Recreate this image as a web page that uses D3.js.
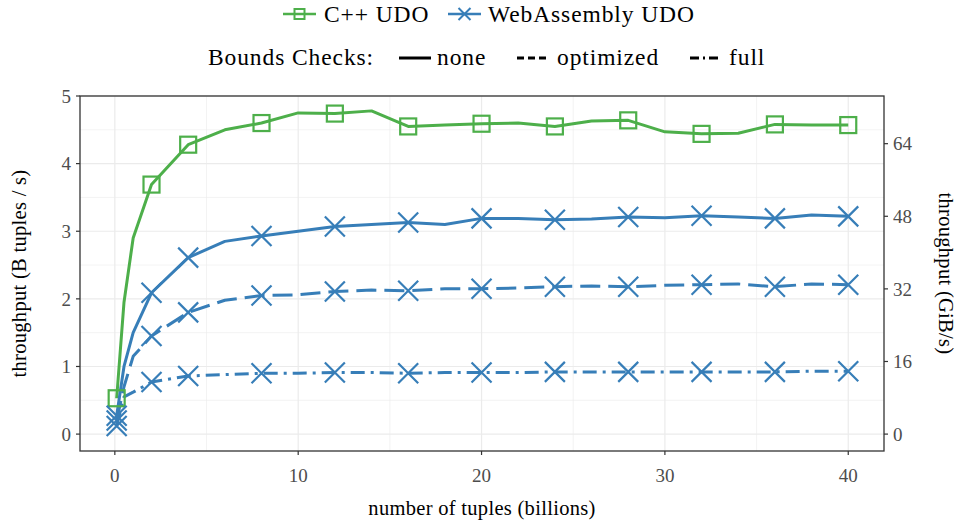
<!DOCTYPE html>
<html><head><meta charset="utf-8">
<script src="https://cdn.jsdelivr.net/npm/d3@7"></script>
<style>body{margin:0;background:#fff}svg{display:block}</style>
</head><body>
<svg id="c" width="962" height="523"></svg>
<script>
// ---- data ----
const tuples = [0.1, 0.5, 1, 2, 4, 6, 8, 10, 12, 14, 16, 18, 20, 22, 24, 26, 28, 30, 32, 34, 36, 38, 40];
const cppNone  = [0.53, 1.95, 2.9, 3.69, 4.28, 4.5, 4.6, 4.75, 4.74, 4.78, 4.55, 4.57, 4.59, 4.6, 4.55, 4.63, 4.64, 4.47, 4.44, 4.45, 4.58, 4.57, 4.57];
const wasmNone = [0.27, 1.0, 1.5, 2.09, 2.61, 2.85, 2.93, 3.0, 3.07, 3.1, 3.13, 3.1, 3.19, 3.19, 3.17, 3.18, 3.21, 3.2, 3.23, 3.21, 3.19, 3.24, 3.22];
const wasmOpt  = [0.2, 0.7, 1.15, 1.45, 1.8, 1.98, 2.05, 2.06, 2.11, 2.13, 2.12, 2.15, 2.15, 2.16, 2.18, 2.19, 2.18, 2.2, 2.21, 2.22, 2.18, 2.22, 2.21];
const wasmFull = [0.12, 0.55, 0.62, 0.77, 0.86, 0.88, 0.9, 0.9, 0.91, 0.91, 0.9, 0.91, 0.91, 0.91, 0.92, 0.92, 0.92, 0.92, 0.92, 0.92, 0.92, 0.93, 0.93];
const markerTuples = [0.1, 2, 4, 8, 12, 16, 20, 24, 28, 32, 36, 40];
const xTicks = [0, 10, 20, 30, 40];
const yTicks = [0, 1, 2, 3, 4, 5];
const gibTicks = [0, 16, 32, 48, 64];
const seriesNames = ["C++ UDO", "WebAssembly UDO"];
const checkNames = ["none", "optimized", "full"];
const BYTES_PER_TUPLE = 16;

// ---- style ----
const GREEN = "#4daf4a", BLUE = "#377eb8";
const FONT = "'Liberation Serif', 'DejaVu Serif', serif";
const dashes = {none: null, optimized: "20,8", full: "14,6,3,6"};
const legendDashes = {none: null, optimized: "7,4", full: "9,4,2,4"};

const svg = d3.select("#c").style("font-family", FONT);
const P = {l: 80, r: 884, t: 96, b: 451};
const x = d3.scaleLinear().domain([-1.9, 41.95]).range([P.l, P.r]);
const y = d3.scaleLinear().domain([-0.25, 5]).range([P.b, P.t]);
const gibToB = g => g * Math.pow(2, 30) / BYTES_PER_TUPLE / 1e9;

// grid
const g = svg.append("g");
const minorX = d3.range(5, 40, 10), minorY = d3.range(0.5, 5, 1);
g.selectAll(".mx").data(minorX).join("line").attr("x1", d => x(d)).attr("x2", d => x(d)).attr("y1", P.t).attr("y2", P.b).attr("stroke", "#ebebeb").attr("stroke-width", 0.6);
g.selectAll(".my").data(minorY).join("line").attr("y1", d => y(d)).attr("y2", d => y(d)).attr("x1", P.l).attr("x2", P.r).attr("stroke", "#ebebeb").attr("stroke-width", 0.6);
g.selectAll(".gx").data(xTicks).join("line").attr("x1", d => x(d)).attr("x2", d => x(d)).attr("y1", P.t).attr("y2", P.b).attr("stroke", "#ebebeb").attr("stroke-width", 1.2);
g.selectAll(".gy").data(yTicks).join("line").attr("y1", d => y(d)).attr("y2", d => y(d)).attr("x1", P.l).attr("x2", P.r).attr("stroke", "#ebebeb").attr("stroke-width", 1.2);

// lines
const line = d3.line().x(d => x(d[0])).y(d => y(d[1]));
const series = [
  {vals: cppNone, color: GREEN, check: "none", marker: "square"},
  {vals: wasmFull, color: BLUE, check: "full", marker: "x"},
  {vals: wasmOpt, color: BLUE, check: "optimized", marker: "x"},
  {vals: wasmNone, color: BLUE, check: "none", marker: "x"},
];
const plot = svg.append("g");
series.forEach(s => {
  const pts = tuples.map((t, i) => [t, s.vals[i]]);
  plot.append("path").attr("d", line(pts)).attr("fill", "none").attr("stroke", s.color)
    .attr("stroke-width", 3).attr("stroke-dasharray", dashes[s.check]).attr("stroke-linejoin", "round");
});
function drawMarker(sel, type, cx, cy, size, color, sw) {
  const h = size / 2;
  if (type === "square") {
    sel.append("rect").attr("x", cx - h).attr("y", cy - h).attr("width", size).attr("height", size)
      .attr("fill", "none").attr("stroke", color).attr("stroke-width", sw);
  } else {
    sel.append("path").attr("d", `M${cx-h},${cy-h}L${cx+h},${cy+h}M${cx-h},${cy+h}L${cx+h},${cy-h}`)
      .attr("stroke", color).attr("stroke-width", sw).attr("fill", "none");
  }
}
series.forEach(s => {
  markerTuples.forEach(t => {
    const i = tuples.indexOf(t);
    drawMarker(plot, s.marker, x(t), y(s.vals[i]), s.marker === "square" ? 16 : 20, s.color, 2.2);
  });
});

// panel border
svg.append("rect").attr("x", P.l).attr("y", P.t).attr("width", P.r - P.l).attr("height", P.b - P.t)
  .attr("fill", "none").attr("stroke", "#333").attr("stroke-width", 1.3);

// axes
const TICKC = "#4d4d4d";
const ax = svg.append("g").attr("font-size", 19).attr("fill", TICKC);
yTicks.forEach(v => {
  ax.append("line").attr("x1", P.l - 4).attr("x2", P.l).attr("y1", y(v)).attr("y2", y(v)).attr("stroke", "#333").attr("stroke-width", 1.2);
  ax.append("text").attr("x", P.l - 9).attr("y", y(v)).attr("dy", "0.35em").attr("text-anchor", "end").text(v);
});
gibTicks.forEach(v => {
  const yy = y(gibToB(v));
  ax.append("line").attr("x1", P.r).attr("x2", P.r + 4).attr("y1", yy).attr("y2", yy).attr("stroke", "#333").attr("stroke-width", 1.2);
  ax.append("text").attr("x", P.r + 9).attr("y", yy).attr("dy", "0.35em").attr("text-anchor", "start").text(v);
});
xTicks.forEach(v => {
  ax.append("line").attr("x1", x(v)).attr("x2", x(v)).attr("y1", P.b).attr("y2", P.b + 4).attr("stroke", "#333").attr("stroke-width", 1.2);
  ax.append("text").attr("x", x(v)).attr("y", P.b + 31).attr("text-anchor", "middle").text(v);
});

// axis titles
const tt = svg.append("g").attr("font-size", 20.5).attr("fill", "#000").attr("letter-spacing", 0.3);
tt.append("text").attr("x", (P.l + P.r) / 2).attr("y", 515).attr("text-anchor", "middle").text("number of tuples (billions)");
tt.append("text").attr("transform", `translate(26,${(P.t + P.b) / 2}) rotate(-90)`).attr("text-anchor", "middle").text("throughput (B tuples / s)");
tt.append("text").attr("transform", `translate(939,${(P.t + P.b) / 2}) rotate(90)`).attr("text-anchor", "middle").text("throughput (GiB/s)");

// legend
const lg = svg.append("g").attr("font-size", 23.5).attr("fill", "#000").attr("letter-spacing", 0.9);
const leg1 = [
  {name: seriesNames[0], color: GREEN, marker: "square", x0: 283, tx: 324},
  {name: seriesNames[1], color: BLUE, marker: "x", x0: 448, tx: 488},
];
leg1.forEach(d => {
  lg.append("line").attr("x1", d.x0).attr("x2", d.x0 + 33).attr("y1", 14).attr("y2", 14).attr("stroke", d.color).attr("stroke-width", 2.5);
  drawMarker(lg, d.marker, d.x0 + 16.5, 14, d.marker === "square" ? 10 : 12, d.color, 2);
  lg.append("text").attr("x", d.tx).attr("y", 22).text(d.name);
});
lg.append("text").attr("x", 208).attr("y", 65).text("Bounds Checks:");
const leg2x = [{x0: 399, tx: 437}, {x0: 517, tx: 557}, {x0: 690, tx: 729}];
checkNames.forEach((c, i) => {
  lg.append("line").attr("x1", leg2x[i].x0).attr("x2", leg2x[i].x0 + 32).attr("y1", 58).attr("y2", 58)
    .attr("stroke", "#000").attr("stroke-width", 3).attr("stroke-dasharray", legendDashes[c]);
  lg.append("text").attr("x", leg2x[i].tx).attr("y", 65).text(c);
});
</script>
</body></html>
